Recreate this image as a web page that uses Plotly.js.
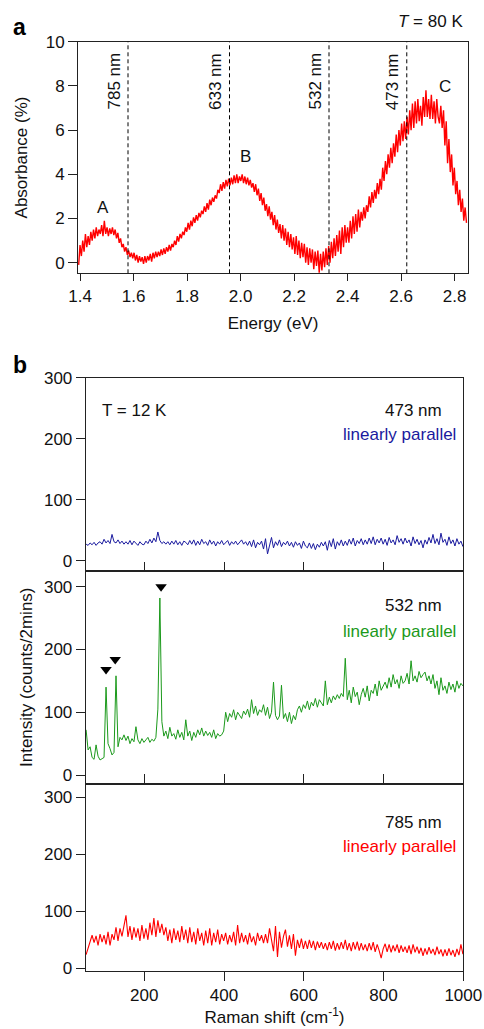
<!DOCTYPE html>
<html><head><meta charset="utf-8">
<script src="https://cdn.plot.ly/plotly-3.0.1.min.js"></script>
<style>html,body{margin:0;padding:0;background:#fff}#chart{width:484px;height:1029px}</style>
</head><body><div id="chart"></div>
<script>
// ---- Panel a: absorbance vs energy (T = 80 K)
const absStartEV = 1.395;
const absStepEV = 0.00505;
const absorbance = [
-0.1,0.8,0.3,1.0,0.5,1.3,0.7,1.2,0.8,1.4,
1.0,1.5,1.1,1.6,1.2,1.5,1.3,1.7,1.2,1.9,
1.3,1.6,1.2,1.55,1.3,1.6,1.25,1.5,1.1,1.35,
0.9,1.1,0.7,0.85,0.5,0.7,0.35,0.55,0.25,0.45,
0.2,0.45,0.1,0.35,0.0,0.3,0.05,0.25,-0.05,0.3,
0.0,0.3,0.1,0.4,0.05,0.45,0.2,0.5,0.25,0.5,
0.3,0.6,0.35,0.65,0.4,0.7,0.5,0.8,0.55,0.85,
0.7,1.0,0.8,1.2,0.95,1.3,1.1,1.4,1.25,1.6,
1.4,1.8,1.5,1.9,1.65,2.05,1.8,2.15,1.9,2.25,
2.05,2.35,2.2,2.55,2.3,2.7,2.4,2.85,2.6,2.95,
2.75,3.05,2.9,3.3,3.15,3.55,3.25,3.65,3.35,3.75,
3.45,3.8,3.5,3.85,3.55,3.95,3.6,4.0,3.6,3.9,
3.7,4.0,3.6,3.9,3.55,3.85,3.5,3.75,3.4,3.6,
3.2,3.55,3.05,3.35,2.8,3.15,2.6,2.95,2.35,2.65,
2.1,2.55,1.95,2.3,1.7,2.15,1.5,1.95,1.35,1.75,
1.1,1.7,1.0,1.55,0.8,1.4,0.7,1.3,0.6,1.15,
0.4,1.2,0.35,1.0,0.2,0.9,0.25,0.85,0.0,0.7,
-0.1,0.65,0.0,0.6,-0.3,0.5,-0.15,0.55,-0.45,0.4,
-0.35,0.5,-0.2,0.65,-0.1,0.75,0.0,0.95,0.2,1.1,
0.3,1.25,0.5,1.45,0.4,1.6,0.7,1.7,0.9,1.6,
0.9,1.9,1.1,2.1,1.3,2.2,1.4,2.4,1.6,2.3,
1.9,2.5,2.0,2.6,2.3,3.0,2.5,3.2,2.7,3.3,
2.9,3.6,3.1,3.8,3.3,4.3,3.7,4.6,4.0,4.9,
4.3,5.2,4.5,5.4,4.8,5.8,5.0,6.0,5.3,6.3,
5.5,6.4,5.6,6.6,5.8,6.9,6.0,7.2,6.1,7.3,
6.3,7.4,6.4,7.1,6.2,7.5,6.6,7.8,6.6,7.4,
6.5,7.6,6.5,7.3,6.3,7.4,6.6,6.3,7.1,6.1,
6.9,5.3,6.4,4.5,5.6,4.1,4.9,3.5,4.3,3.1,
3.7,2.6,3.3,2.3,2.9,1.9,2.5,1.8
];
const absTickVals = [1.4,1.6,1.8,2.0,2.2,2.4,2.6,2.8];
const laserNm = [785, 633, 532, 473];
const laserLabels = ['785 nm', '633 nm', '532 nm', '473 nm'];
const peakNames = ['A', 'B', 'C'];
const peakEV = [1.486, 2.017, 2.764];
const peakLabelAbs = [2.48, 4.8, 7.96];

// ---- Panel b: Raman spectra (T = 12 K)
const ramanStart = 54;
const ramanStep = 5;
const raman473 = [
27,25,29,26,30,25,29,31,27,35,
29,33,28,43,31,29,34,28,32,27,
31,27,33,26,32,28,25,31,27,26,
32,28,35,29,37,31,47,33,28,31,
27,31,26,32,27,33,26,31,25,32,
30,26,33,27,34,25,32,26,35,28,
31,25,34,27,32,24,31,27,33,26,
30,33,25,31,27,32,26,30,34,27,
31,25,32,23,34,21,30,26,32,19,
36,11,26,38,21,31,25,34,23,30,
26,32,24,30,22,31,25,29,20,32,
24,21,29,20,28,18,27,22,30,24,
31,17,33,23,36,19,31,25,34,24,
32,25,35,27,37,24,33,28,36,26,
34,27,37,28,39,26,35,29,37,27,
35,25,38,29,34,26,41,30,36,27,
37,29,34,24,39,28,35,26,33,21,
34,27,38,29,43,28,36,26,45,30,
35,25,39,28,34,24,36,27,32,23
];
const raman532 = [
72,40,45,28,25,48,30,24,26,28,
140,50,42,32,36,158,45,60,56,64,
55,62,50,58,53,77,56,50,58,52,
56,60,52,57,54,60,105,282,85,62,
70,58,76,62,66,57,72,60,68,56,
88,62,70,55,68,60,72,64,75,62,
70,63,68,60,72,58,66,62,64,70,
100,85,98,92,104,88,100,95,90,102,
96,105,92,120,98,110,95,104,100,112,
95,108,90,100,148,95,88,94,143,90,
98,85,100,82,95,88,104,110,100,112,
106,118,104,116,110,122,108,120,114,110,
150,112,124,115,126,120,128,122,130,125,
186,120,135,115,140,125,132,112,128,138,
124,142,118,135,130,145,126,150,135,142,
148,138,155,140,160,145,152,138,158,146,
150,162,145,182,150,158,148,165,155,160,
164,150,158,145,160,138,150,128,155,135,
142,130,148,136,145,132,150,138,146,142
];
const raman785 = [
24,35,50,58,45,57,40,60,46,58,
42,64,40,60,50,72,48,70,56,76,
93,55,74,50,72,54,70,48,76,52,
70,50,80,58,88,55,84,62,78,58,
72,48,68,44,70,50,66,46,74,50,
68,44,72,46,64,42,70,48,62,40,
66,44,70,40,62,46,68,42,60,48,
62,42,58,46,64,40,76,44,62,46,
58,42,62,46,56,40,62,48,58,44,
60,44,70,50,30,74,20,64,36,56,
68,38,58,34,60,22,50,36,52,34,
48,34,50,36,48,32,47,36,46,34,
44,32,46,34,48,31,44,33,46,34,
50,32,44,30,46,33,47,31,44,32,
42,30,44,32,46,29,42,31,18,34,
43,29,42,28,40,30,42,27,40,29,
38,27,40,25,42,28,38,26,36,22,
35,24,37,26,34,23,38,25,33,21,
33,22,35,23,32,20,34,23,42,25
];
const ramanTickVals = [200, 400, 600, 800, 1000];
const intensityTickVals = [0, 100, 200, 300];
const markedShift = [104, 127, 242];
const markedIntensity = [168, 184, 300];
const laserNames = ['473 nm', '532 nm', '785 nm'];
const polarization = 'linearly parallel';

// ---- styling
const FONT = 'Liberation Sans, Arial, Helvetica, sans-serif';
const FS = 17;
const RED = '#ff0000', BLUE = '#1a1a9e', GREEN = '#1b991b';
const AX = '#222';

const traces = [
  {type:'scatter', mode:'lines', x0:absStartEV, dx:absStepEV, y:absorbance,
   xaxis:'x', yaxis:'y', line:{color:RED, width:1.4}, hoverinfo:'skip'},
  {type:'scatter', mode:'lines', x0:ramanStart, dx:ramanStep, y:raman473,
   xaxis:'x2', yaxis:'y2', line:{color:BLUE, width:1}, hoverinfo:'skip'},
  {type:'scatter', mode:'lines', x0:ramanStart, dx:ramanStep, y:raman532,
   xaxis:'x3', yaxis:'y3', line:{color:GREEN, width:1}, hoverinfo:'skip'},
  {type:'scatter', mode:'markers', x:markedShift, y:markedIntensity,
   xaxis:'x3', yaxis:'y3', marker:{symbol:'triangle-down', size:10, color:'#000'}, hoverinfo:'skip'},
  {type:'scatter', mode:'lines', x0:ramanStart, dx:ramanStep, y:raman785,
   xaxis:'x4', yaxis:'y4', line:{color:RED, width:1.1}, hoverinfo:'skip'}
];

const tickFont = {family:FONT, size:FS, color:'#111'};
const baseAx = {showgrid:false, zeroline:false, showline:true, linecolor:AX, linewidth:1,
  tickcolor:AX, tickwidth:1, tickfont:tickFont, automargin:false, fixedrange:true};

const bX = [85.7/484, 463.3/484];
const ramanRange = [53, 1000];

const layout = {
  width:484, height:1029, margin:{l:0, r:0, t:0, b:0},
  paper_bgcolor:'#fff', plot_bgcolor:'#fff', showlegend:false,
  font:{family:FONT, size:FS, color:'#111'},
  xaxis: Object.assign({}, baseAx, {domain:[78/484, 468/484], anchor:'y', range:[1.3925, 2.85],
    tickvals:absTickVals, ticktext:absTickVals.map(v=>v.toFixed(1)), ticks:'outside', ticklen:7, mirror:true,
    title:{text:'Energy (eV)', font:{family:FONT, size:FS}, standoff:12}}),
  yaxis: Object.assign({}, baseAx, {domain:[1-273.3/1029, 1-41.7/1029], anchor:'x', range:[-0.48, 10],
    tickvals:[0,2,4,6,8,10], ticks:'outside', ticklen:9, mirror:true,
    title:{text:'Absorbance (%)', font:{family:FONT, size:FS}, standoff:13}}),
  xaxis2: Object.assign({}, baseAx, {domain:bX, anchor:'y2', range:ramanRange,
    tickvals:ramanTickVals, ticks:'', showticklabels:false, mirror:true}),
  yaxis2: Object.assign({}, baseAx, {domain:[1-571/1029, 1-377.7/1029], anchor:'x2', range:[-17, 300],
    tickvals:intensityTickVals, ticks:'outside', ticklen:9, mirror:true}),
  xaxis3: Object.assign({}, baseAx, {domain:bX, anchor:'y3', range:ramanRange, side:'top',
    tickvals:ramanTickVals, ticks:'outside', ticklen:8, showticklabels:false, mirror:true}),
  yaxis3: Object.assign({}, baseAx, {domain:[1-783.5/1029, 1-571/1029], anchor:'x3', range:[-13.5, 325],
    tickvals:intensityTickVals, ticks:'outside', ticklen:9, mirror:true,
    title:{text:'Intensity (counts/2mins)', font:{family:FONT, size:FS}, standoff:6}}),
  xaxis4: Object.assign({}, baseAx, {domain:bX, anchor:'y4', range:ramanRange,
    tickvals:ramanTickVals, ticks:'outside', ticklen:9, mirror:'ticks',
    title:{text:'Raman shift (cm<sup>-1</sup>)', font:{family:FONT, size:FS}, standoff:5}}),
  yaxis4: Object.assign({}, baseAx, {domain:[1-970.7/1029, 1-784/1029], anchor:'x4', range:[-4.2, 323.3],
    tickvals:intensityTickVals, ticks:'outside', ticklen:9, mirror:true}),
  shapes: laserNm.map(nm => ({type:'line', xref:'x', yref:'y domain', x0:1239.84/nm, x1:1239.84/nm,
    y0:0, y1:1, line:{color:'#000', width:1, dash:'4px,3px'}})),
  annotations: []
};

const ann = layout.annotations;
ann.push({xref:'paper', yref:'paper', x:11/484, y:1-27/1029, xanchor:'left', yanchor:'middle',
  text:'<b>a</b>', showarrow:false, font:{family:FONT, size:23, color:'#000'}});
ann.push({xref:'paper', yref:'paper', x:465/484, y:1-21/1029, xanchor:'right', yanchor:'middle',
  text:'<i>T</i> = 80 K', showarrow:false, font:{family:FONT, size:FS, color:'#111'}});
laserNm.forEach((nm, i) => ann.push({xref:'x', yref:'y', x:1239.84/nm, y:8.2, xshift:-14,
  textangle:-90, text:laserLabels[i], showarrow:false, font:{family:FONT, size:FS, color:'#111'}}));
peakNames.forEach((p, i) => ann.push({xref:'x', yref:'y', x:peakEV[i], y:peakLabelAbs[i],
  text:p, showarrow:false, font:{family:FONT, size:FS, color:'#111'}}));

ann.push({xref:'paper', yref:'paper', x:11/484, y:1-365/1029, xanchor:'left', yanchor:'middle',
  text:'<b>b</b>', showarrow:false, font:{family:FONT, size:23, color:'#000'}});
ann.push({xref:'paper', yref:'paper', x:100/484, y:1-410/1029, xanchor:'left', yanchor:'middle',
  text:'T = 12 K', showarrow:false, font:{family:FONT, size:FS, color:'#111'}});
const nameY = [410, 605, 822];
const polY = [434, 631, 846];
const polColor = [BLUE, GREEN, RED];
laserNames.forEach((n, i) => {
  ann.push({xref:'paper', yref:'paper', x:444/484, y:1-nameY[i]/1029, xanchor:'right', yanchor:'middle',
    text:n, showarrow:false, font:{family:FONT, size:FS, color:'#111'}});
  ann.push({xref:'paper', yref:'paper', x:458/484, y:1-polY[i]/1029, xanchor:'right', yanchor:'middle',
    text:polarization, showarrow:false, font:{family:FONT, size:FS, color:polColor[i]}});
});

Plotly.newPlot('chart', traces, layout, {staticPlot:true, displayModeBar:false});
</script></body></html>
